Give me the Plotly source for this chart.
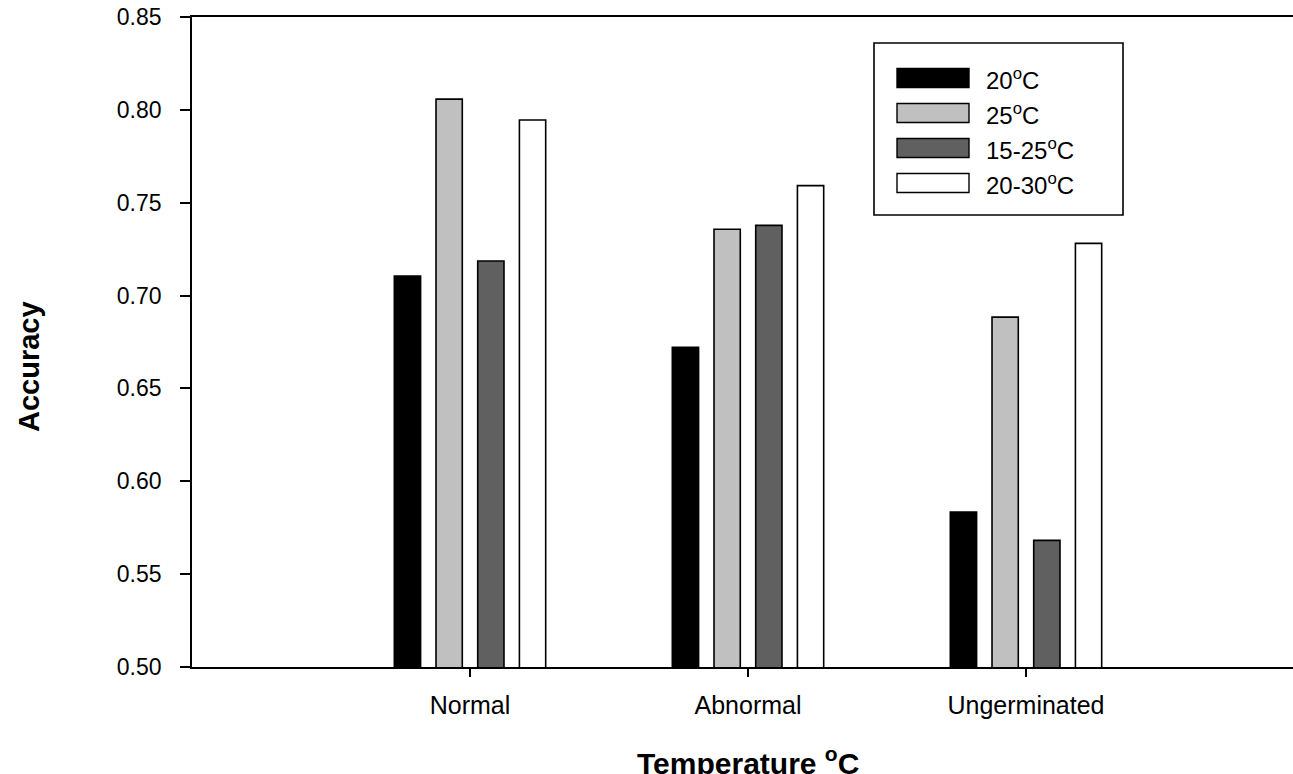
import plotly.graph_objects as go

# ---- data ----
categories = ["Normal", "Abnormal", "Ungerminated"]
series_names = ["20<sup>o</sup>C", "25<sup>o</sup>C", "15-25<sup>o</sup>C", "20-30<sup>o</sup>C"]
acc_20 = [0.7105, 0.6721, 0.5834]
acc_25 = [0.8058, 0.7357, 0.6884]
acc_15_25 = [0.7186, 0.7378, 0.5682]
acc_20_30 = [0.7945, 0.7592, 0.7281]
series_values = [acc_20, acc_25, acc_15_25, acc_20_30]
y_ticks = [0.50, 0.55, 0.60, 0.65, 0.70, 0.75, 0.80, 0.85]

colors = ["#000000", "#c0c0c0", "#606060", "#ffffff"]

W, H = 1293, 774
ML, MT, MB, MR = 192, 17, 107, 0
PW, PH = W - ML - MR, H - MT - MB

FONT = "Liberation Sans, Arial, sans-serif"

fig = go.Figure()
for name, vals, col in zip(series_names, series_values, colors):
    fig.add_trace(go.Bar(
        x=categories, y=vals, name=name,
        marker=dict(color=col, line=dict(color="#000000", width=1.6)),
        showlegend=False,
    ))


def px_x(px):
    # screen pixel -> paper x
    return (px - ML) / PW


def px_y(py):
    # screen pixel -> paper y
    return (H - MB - py) / PH


# custom legend box with wide swatches
shapes = [dict(type="rect", xref="paper", yref="paper",
               x0=px_x(874), x1=px_x(1123), y0=px_y(215), y1=px_y(43),
               line=dict(color="#000000", width=1.6), fillcolor="#ffffff")]
annotations = []
row0, row_step = 78, 35
for i, (name, col) in enumerate(zip(series_names, colors)):
    cy = row0 + i * row_step
    shapes.append(dict(type="rect", xref="paper", yref="paper",
                       x0=px_x(897), x1=px_x(969), y0=px_y(cy + 9.5), y1=px_y(cy - 9.5),
                       line=dict(color="#000000", width=1.4), fillcolor=col))
    annotations.append(dict(xref="paper", yref="paper", x=px_x(984), y=px_y(cy + 1),
                            xanchor="left", yanchor="middle", text=name, showarrow=False,
                            font=dict(family=FONT, size=24, color="#000000")))

# axis titles
annotations.append(dict(xref="paper", yref="paper", x=px_x(29), y=px_y(367),
                        xanchor="center", yanchor="middle", textangle=-90,
                        text="<b>Accuracy</b>", showarrow=False,
                        font=dict(family=FONT, size=29, color="#000000")))
annotations.append(dict(xref="x", yref="paper", x=categories[1], y=px_y(740),
                        xanchor="center", yanchor="top",
                        text="<b>Temperature <sup>o</sup>C</b>", showarrow=False,
                        font=dict(family=FONT, size=30, color="#000000")))

fig.update_layout(
    width=W, height=H,
    margin=dict(l=ML, r=MR, t=MT, b=MB, pad=0),
    paper_bgcolor="#ffffff", plot_bgcolor="#ffffff",
    barmode="group", bargap=0.40, bargroupgap=0.37,
    font=dict(family=FONT, color="#000000"),
    shapes=shapes, annotations=annotations,
    showlegend=False,
    xaxis=dict(
        range=[-1, -1 + PW / 278.0],
        showline=True, linecolor="#000000", linewidth=1.6, mirror=True,
        ticks="outside", ticklen=8, tickwidth=1.6, tickcolor="#000000",
        showgrid=False, zeroline=False,
        tickfont=dict(family=FONT, size=25, color="#000000"),
        ticklabelstandoff=7,
    ),
    yaxis=dict(
        range=[0.5, 0.85],
        tickvals=y_ticks, tickformat=".2f",
        showline=True, linecolor="#000000", linewidth=1.6, mirror=False,
        ticks="outside", ticklen=10, tickwidth=1.6, tickcolor="#000000",
        showgrid=False, zeroline=False,
        tickfont=dict(family=FONT, size=23, color="#000000"),
        ticklabelstandoff=14, ticklabeloverflow="allow",
    ),
)

fig.write_html(
    "out.html",
    config={"displayModeBar": False},
    post_script="document.body.style.margin='0';document.body.style.overflow='hidden';",
)
